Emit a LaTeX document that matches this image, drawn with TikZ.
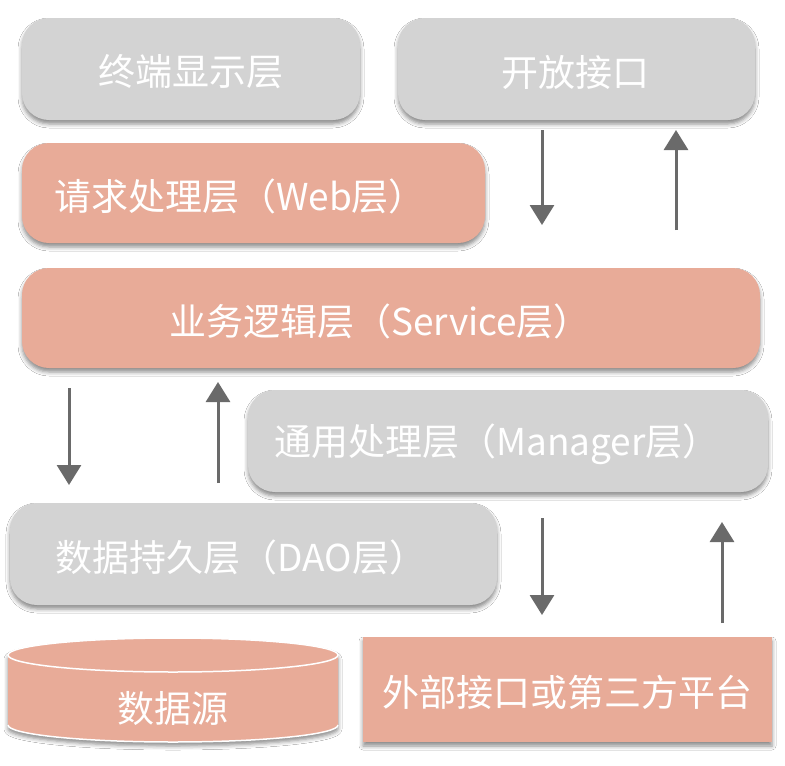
\documentclass[tikz,border=0pt]{standalone}
\usepackage{fontspec}
\newfontfamily\cjk{Noto Sans CJK SC}
\usetikzlibrary{arrows.meta,shadows.blur}
\definecolor{boxgray}{HTML}{D3D3D3}
\definecolor{salmon}{HTML}{E8AB98}
\definecolor{arrowgray}{HTML}{6A6A6A}
\tikzset{
  layer/.style={rounded corners=27pt, draw=none, inner sep=0pt,
    text=white, font=\cjk\fontsize{37}{44}\selectfont,
    blur shadow={shadow xshift=0pt, shadow yshift=-4pt, shadow blur radius=4pt, shadow opacity=45}},
  graylayer/.style={layer, fill=boxgray},
  redlayer/.style={layer, fill=salmon},
  flow/.style={draw=arrowgray, line width=3pt, -{Triangle[width=24pt,length=20pt]}},
  lbl/.style={text=white, font=\cjk\fontsize{37}{44}\selectfont, inner sep=0pt}
}
\begin{document}
\begin{tikzpicture}[x=1pt,y=-1pt]
\useasboundingbox (0,0) rectangle (785,766);
\fill[white] (0,0) rectangle (785,766);
% layers
\node[graylayer, minimum width=338pt, minimum height=102pt] (term) at (191,69) {};
\node[lbl] at (191,72) {终端显示层};
\node[graylayer, minimum width=357pt, minimum height=102pt] (open) at (576.5,69) {};
\node[lbl] at (575,72) {开放接口};
\node[redlayer, minimum width=463pt, minimum height=100pt] (web) at (253.5,193) {};
\node[lbl] at (240,196) {请求处理层（Web层）};
\node[redlayer, minimum width=738pt, minimum height=100pt] (svc) at (391,318) {};
\node[lbl] at (380,321) {业务逻辑层（Service层）};
\node[graylayer, minimum width=520pt, minimum height=102pt] (mgr) at (508,441) {};
\node[lbl] at (497,444) {通用处理层（Manager层）};
\node[graylayer, minimum width=487pt, minimum height=102pt] (dao) at (253.5,554) {};
\node[lbl] at (241,557) {数据持久层（DAO层）};
\node[redlayer, rounded corners=0pt, minimum width=409pt, minimum height=105pt] (ext) at (567.5,689.5) {};
\node[lbl] at (567.5,692) {外部接口或第三方平台};
% cylinder
\fill[salmon, blur shadow={shadow xshift=0pt, shadow yshift=-4pt, shadow blur radius=4pt, shadow opacity=45}]
  (8,655) arc[start angle=180, end angle=360, x radius=165, y radius=17]
  -- (338,725) arc[start angle=0, end angle=180, x radius=165, y radius=17] -- cycle;
\draw[white, line width=1.5pt] (173,655) ellipse[x radius=165, y radius=17];
\draw[white, line width=1.5pt] (338,725) arc[start angle=0, end angle=180, x radius=165, y radius=17];
\node[lbl] (src) at (173,708) {数据源};
% arrows
\coordinate (a1s) at (542,130); \coordinate (a1e) at (542,225);
\coordinate (a2s) at (676,230); \coordinate (a2e) at (676,130);
\coordinate (a3s) at (69,388);  \coordinate (a3e) at (69,485);
\coordinate (a4s) at (218,483); \coordinate (a4e) at (218,382);
\coordinate (a5s) at (542,518); \coordinate (a5e) at (542,615);
\coordinate (a6s) at (722,623); \coordinate (a6e) at (722,522);
\draw[flow] (a1s) -- (a1e);
\draw[flow] (a2s) -- (a2e);
\draw[flow] (a3s) -- (a3e);
\draw[flow] (a4s) -- (a4e);
\draw[flow] (a5s) -- (a5e);
\draw[flow] (a6s) -- (a6e);
\end{tikzpicture}
\end{document}
